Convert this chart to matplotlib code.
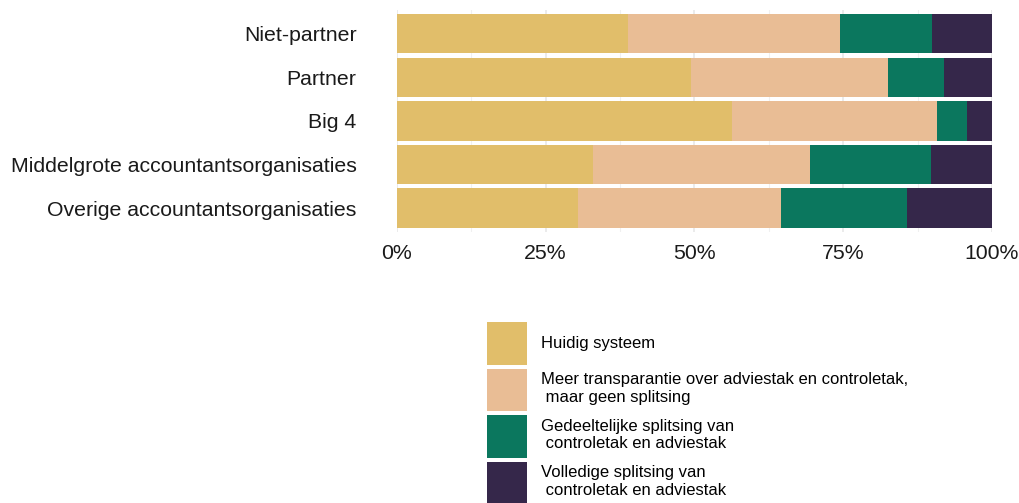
import numpy as np
import matplotlib.pyplot as plt
from matplotlib.ticker import MultipleLocator, PercentFormatter

plt.rcParams['font.family'] = ['Liberation Sans', 'DejaVu Sans']

groups = ['Niet-partner', 'Partner', 'Big 4',
          'Middelgrote accountantsorganisaties', 'Overige accountantsorganisaties']
options = ['Huidig systeem',
           'Meer transparantie over adviestak en controletak,\n maar geen splitsing',
           'Gedeeltelijke splitsing van\n controletak en adviestak',
           'Volledige splitsing van\n controletak en adviestak']
colors = ['#E1BE6A', '#E9BD95', '#0B775E', '#35274A']

# share (%) per group, one list per option
huidig = [38.9, 49.5, 56.4, 33.0, 30.5]
transparantie = [35.5, 33.1, 34.4, 36.5, 34.0]
gedeeltelijk = [15.6, 9.4, 5.0, 20.3, 21.3]
volledig = [10.0, 8.0, 4.2, 10.2, 14.2]
shares = [huidig, transparantie, gedeeltelijk, volledig]

fig = plt.figure(figsize=(10.2, 5.03), dpi=100)
ax = fig.add_axes([0.389, 0.5388, 0.5835, 0.4414])

y = np.arange(len(groups))
left = np.zeros(len(groups))
for vals, col, lab in zip(shares, colors, options):
    ax.barh(y, vals, left=left, height=0.9, color=col, label=lab, zorder=2)
    left += np.array(vals)

ax.set_xlim(0, 100)
ax.set_ylim(len(groups) - 0.45, -0.55)
ax.set_yticks(y)
ax.set_yticklabels(groups)
ax.xaxis.set_major_locator(MultipleLocator(25))
ax.xaxis.set_minor_locator(MultipleLocator(12.5))
ax.xaxis.set_major_formatter(PercentFormatter(decimals=0))
ax.grid(axis='x', which='major', color='#e6e6e6', lw=1.1, zorder=0)
ax.grid(axis='x', which='minor', color='#f0f0f0', lw=0.8, zorder=0)
ax.tick_params(which='both', length=0)
ax.tick_params(axis='x', pad=9, labelsize=15.3, colors='#1a1a1a')
ax.tick_params(axis='y', pad=29, labelsize=15.3, colors='#1a1a1a')
for s in ax.spines.values():
    s.set_visible(False)

fig.legend(loc='upper left', bbox_to_anchor=(487 / 1020, 1 - 322 / 503),
           frameon=False, fontsize=12, handlelength=2.4, handleheight=3.55,
           labelspacing=0.24, handletextpad=0.84, borderpad=0, borderaxespad=0)

fig.savefig('out.png', dpi=100)
